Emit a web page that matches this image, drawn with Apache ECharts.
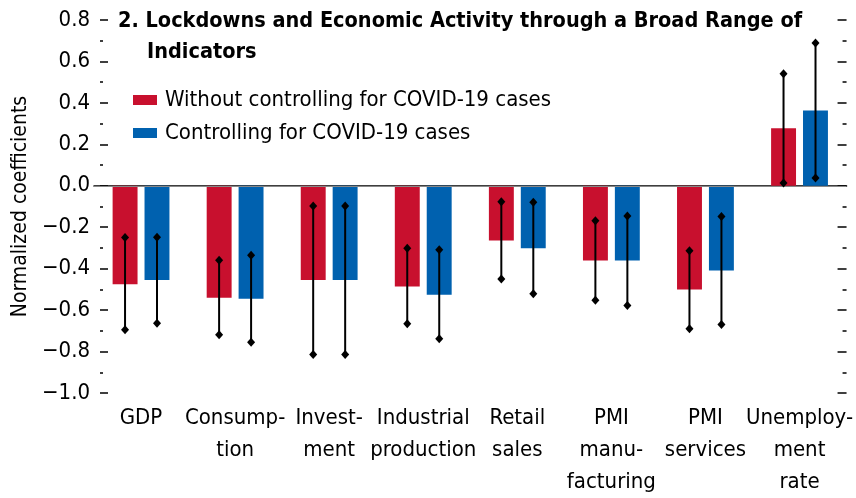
<!DOCTYPE html>
<html>
<head>
<meta charset="utf-8">
<script src="https://cdn.jsdelivr.net/npm/echarts@6/dist/echarts.min.js"></script>
<style>
  html, body { margin: 0; padding: 0; background: #fff; }
  #chart { width: 856px; height: 498px; }
</style>
</head>
<body>
<div id="chart"></div>
<script>
// categories and values
var categories = ['GDP', 'Consump-\ntion', 'Invest-\nment', 'Industrial\nproduction',
  'Retail\nsales', 'PMI\nmanu-\nfacturing', 'PMI\nservices', 'Unemploy-\nment\nrate']

var withoutVals = [-0.475, -0.54, -0.455, -0.486, -0.264, -0.36, -0.50, 0.278]
var withVals = [-0.455, -0.545, -0.455, -0.526, -0.301, -0.36, -0.409, 0.363]

// error bar ends (low, high)
var withoutLo = [-0.695, -0.719, -0.814, -0.666, -0.45, -0.553, -0.69, 0.014]
var withoutHi = [-0.25, -0.359, -0.097, -0.301, -0.077, -0.169, -0.314, 0.541]
var withLo = [-0.663, -0.755, -0.814, -0.738, -0.521, -0.578, -0.669, 0.037]
var withHi = [-0.248, -0.335, -0.097, -0.309, -0.079, -0.146, -0.148, 0.689]

var FONT = '"Liberation Sans Narrow", "DejaVu Sans Condensed", "Roboto", sans-serif'
var RED = '#C8102E'
var BLUE = '#0061AF'

function errRows (lo, hi) {
  return lo.map(function (v, i) { return [i, v, hi[i]] })
}

// draws whisker with diamond ends, shifted to sit on the bar of the group
function errorItem (frac) {
  return function (params, api) {
    var i = api.value(0)
    var a = api.coord([i, api.value(1)])
    var b = api.coord([i, api.value(2)])
    var x = a[0] + api.size([1, 0])[0] * frac
    var st = { fill: '#000', stroke: '#000', lineWidth: 2 }
    function diamond (y) {
      return { type: 'polygon', shape: { points: [[x, y - 4.5], [x + 4, y], [x, y + 4.5], [x - 4, y]] }, style: { fill: '#000' } }
    }
    return {
      type: 'group',
      children: [
        { type: 'line', shape: { x1: x, y1: a[1], x2: x, y2: b[1] }, style: st },
        diamond(a[1]),
        diamond(b[1])
      ]
    }
  }
}

var chart = echarts.init(document.getElementById('chart'))

var option = {
  backgroundColor: '#fff',
  animation: false,
  title: [
    {
      text: '2. Lockdowns and Economic Activity through a Broad Range of',
      left: 118, top: 10, padding: 0,
      textStyle: { fontFamily: FONT, fontWeight: 'bold', fontSize: 21.5, color: '#000' }
    },
    {
      text: 'Indicators',
      left: 147, top: 41, padding: 0,
      textStyle: { fontFamily: FONT, fontWeight: 'bold', fontSize: 21.5, color: '#000' }
    }
  ],
  legend: {
    orient: 'vertical',
    left: 133, top: 89, padding: 0,
    itemWidth: 24, itemHeight: 10, itemGap: 11,
    icon: 'rect',
    textStyle: { fontFamily: FONT, fontSize: 22, color: '#000', padding: [0, 0, 0, 3] },
    data: ['Without controlling for COVID-19 cases', 'Controlling for COVID-19 cases']
  },
  grid: { left: 94, right: 8, top: 20, bottom: 105 },
  xAxis: {
    type: 'category',
    data: categories,
    axisLine: { lineStyle: { color: '#000', width: 1.5 } },
    axisTick: { inside: true, length: 8, lineStyle: { color: '#000', width: 1.5 } },
    axisLabel: { interval: 0, margin: 9, fontFamily: FONT, fontSize: 22, color: '#000', lineHeight: 32 }
  },
  yAxis: [
    {
      type: 'value',
      min: -1, max: 0.8, interval: 0.2,
      offset: -6,
      name: 'Normalized coefficients',
      nameLocation: 'middle', nameRotate: 90, nameGap: 68,
      nameTextStyle: { fontFamily: FONT, fontSize: 21, color: '#000' },
      axisLine: { show: false },
      axisTick: { show: true, inside: true, length: 8, lineStyle: { color: '#000', width: 1.5 } },
      minorTick: { show: true, splitNumber: 2, length: 3, lineStyle: { color: '#000', width: 1.5 } },
      splitLine: { show: false },
      axisLabel: {
        margin: 10, fontFamily: FONT, fontSize: 22, color: '#000',
        formatter: function (v) { return v.toFixed(1).replace('-', '\u2212') }
      }
    },
    {
      type: 'value',
      position: 'right',
      min: -1, max: 0.8, interval: 0.2,
      axisLine: { show: false },
      axisTick: { show: true, inside: true, length: 9, lineStyle: { color: '#000', width: 1.5 } },
      minorTick: { show: true, splitNumber: 2, length: 4, lineStyle: { color: '#000', width: 1.5 } },
      splitLine: { show: false },
      axisLabel: { show: false }
    }
  ],
  series: [
    {
      name: 'Without controlling for COVID-19 cases',
      type: 'bar',
      data: withoutVals,
      barWidth: '26.5%',
      barGap: '28%',
      itemStyle: { color: RED },
      markLine: {
        silent: true,
        symbol: 'none',
        label: { show: false },
        lineStyle: { color: '#888', width: 1.2, type: 'solid' },
        data: [{ yAxis: 0 }]
      }
    },
    {
      name: 'Controlling for COVID-19 cases',
      type: 'bar',
      data: withVals,
      barWidth: '26.5%',
      itemStyle: { color: BLUE }
    },
    {
      type: 'custom',
      renderItem: errorItem(-0.17),
      encode: { x: 0, y: [1, 2] },
      data: errRows(withoutLo, withoutHi),
      z: 10
    },
    {
      type: 'custom',
      renderItem: errorItem(0.17),
      encode: { x: 0, y: [1, 2] },
      data: errRows(withLo, withHi),
      z: 10
    }
  ]
}

chart.setOption(option)
</script>
</body>
</html>
